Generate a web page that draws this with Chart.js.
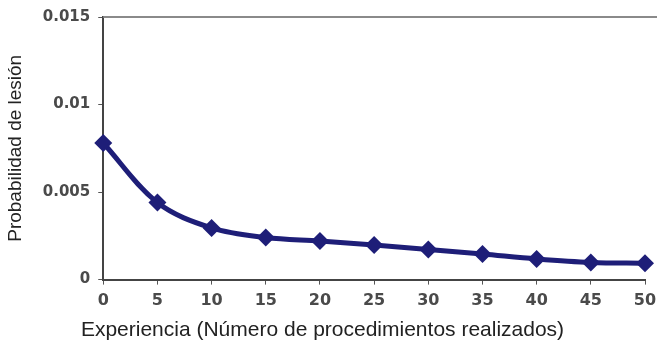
<!DOCTYPE html>
<html>
<head>
<meta charset="utf-8">
<script src="https://cdn.jsdelivr.net/npm/chart.js@4/dist/chart.umd.min.js"></script>
<style>
  html, body { margin: 0; padding: 0; background: #fff; }
  canvas { display: block; }
</style>
</head>
<body>
<canvas id="chart" width="657" height="345"></canvas>
<script>
// procedures performed vs probability of injury
const experience = [0, 5, 10, 15, 20, 25, 30, 35, 40, 45, 50];
const injuryProb = [0.0078, 0.0044, 0.00295, 0.0024, 0.0022, 0.00197, 0.00172, 0.00146, 0.00118, 0.00098, 0.00093];
const yTicks = [0, 0.005, 0.01, 0.015];
const yTickLabels = ["0", "0.005", "0.01", "0.015"];

const navy = "#1e1e78";

// grey frame line along the top, running out to the right edge
const topLine = {
  id: "topLine",
  beforeDatasetsDraw: (chart) => {
    const ctx = chart.ctx;
    const y = chart.scales.y.getPixelForValue(yTicks[yTicks.length - 1]);
    ctx.save();
    ctx.strokeStyle = "#8a8a8a";
    ctx.lineWidth = 2;
    ctx.beginPath();
    ctx.moveTo(chart.chartArea.left, y);
    ctx.lineTo(chart.width, y);
    ctx.stroke();
    ctx.restore();
  }
};

new Chart(document.getElementById("chart"), {
  type: "line",
  data: {
    datasets: [{
      data: experience.map((x, i) => ({ x: x, y: injuryProb[i] })),
      borderColor: navy,
      backgroundColor: navy,
      borderWidth: 5,
      tension: 0.35,
      pointStyle: "rectRot",
      pointRadius: 9,
      pointBorderWidth: 0,
      clip: false
    }]
  },
  options: {
    responsive: false,
    animation: false,
    layout: { padding: { top: 12, right: 12, left: 0, bottom: 2 } },
    plugins: {
      legend: { display: false },
      tooltip: { enabled: false },
      title: {
        display: true,
        position: "bottom",
        text: "Experiencia (Número de procedimientos realizados)",
        font: { family: "Liberation Sans", size: 21, weight: "normal" },
        color: "#222",
        padding: { top: 0, bottom: 0 }
      }
    },
    scales: {
      x: {
        type: "linear",
        min: 0,
        max: 50,
        afterBuildTicks: (axis) => { axis.ticks = experience.map(v => ({ value: v })); },
        // let the last label run off the edge like the original
        afterFit: (axis) => { axis.paddingRight = 0; },
        ticks: {
          font: { family: "DejaVu Sans", size: 16, weight: "bold" },
          color: "#4a4a4a",
          padding: 7,
          maxRotation: 0
        },
        grid: { drawOnChartArea: false, tickLength: 5, tickColor: "#555" },
        border: { color: "#444", width: 2 }
      },
      y: {
        min: 0,
        max: 0.015,
        afterBuildTicks: (axis) => { axis.ticks = yTicks.map(v => ({ value: v })); },
        ticks: {
          font: { family: "DejaVu Sans", size: 15, weight: "bold" },
          color: "#4a4a4a",
          padding: 8,
          callback: (v) => yTickLabels[yTicks.indexOf(v)]
        },
        grid: { drawOnChartArea: false, tickLength: 5, tickColor: "#555" },
        border: { color: "#444", width: 2 },
        title: {
          display: true,
          text: "Probabilidad de lesión",
          font: { family: "Liberation Sans", size: 19 },
          color: "#222",
          padding: { top: 4, bottom: 8 }
        }
      }
    }
  },
  plugins: [topLine]
});
</script>
</body>
</html>
